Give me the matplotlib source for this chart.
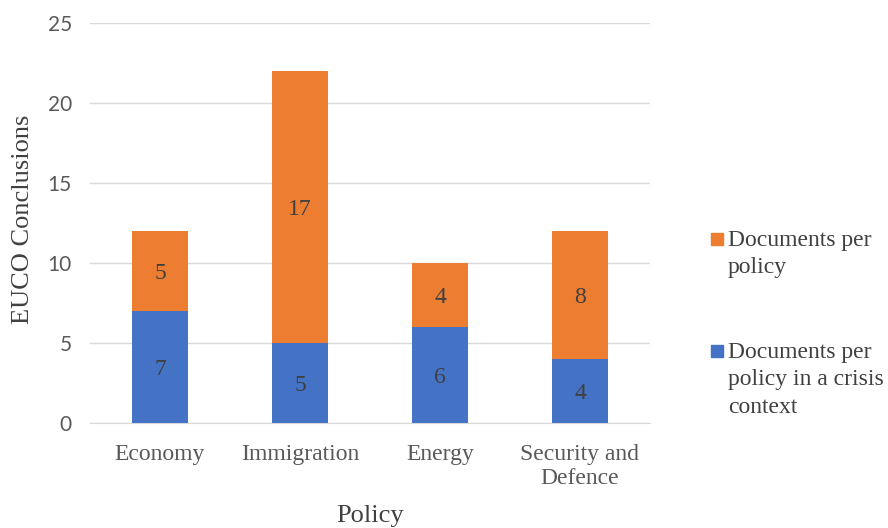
import matplotlib
matplotlib.use("Agg")
import matplotlib.pyplot as plt
from matplotlib.patches import Rectangle

categories = ["Economy", "Immigration", "Energy", "Security and\nDefence"]
crisis = [7, 5, 6, 4]
policy = [5, 17, 4, 8]
series_names = ["Documents per\npolicy", "Documents per\npolicy in a crisis\ncontext"]
yticks = [0, 5, 10, 15, 20, 25]

blue = "#4472C4"
orange = "#ED7D31"
plt.rcParams['font.family'] = ['Liberation Serif', 'DejaVu Serif']

W, H = 888, 528
fig = plt.figure(figsize=(W/100, H/100), dpi=100)
ax = fig.add_axes([90/W, 1-423/H, 560/W, 400/H])

x = range(len(categories))
ax.bar(x, crisis, width=0.4, color=blue, zorder=3)
ax.bar(x, policy, width=0.4, bottom=crisis, color=orange, zorder=3)
for i in x:
    ax.text(i, crisis[i]/2, str(crisis[i]), ha='center', va='center_baseline', fontsize=17, color='#404040', zorder=4)
    ax.text(i, crisis[i] + policy[i]/2, str(policy[i]), ha='center', va='center_baseline', fontsize=17, color='#404040', zorder=4)

ax.set_xlim(-0.5, len(categories)-0.5)
ax.set_ylim(0, 25)
ax.set_yticks(yticks)
ax.set_yticklabels([str(v) for v in yticks], family='Lato', fontsize=15, color='#595959')
ax.set_xticks(list(x))
ax.set_xticklabels(categories, fontsize=17, color='#595959', linespacing=1.2)
ax.tick_params(axis='y', length=0, pad=13)
ax.tick_params(axis='x', length=0, pad=15)
ax.yaxis.grid(True, color='#D9D9D9', linewidth=1, zorder=0)
for s in ['top', 'right', 'left']:
    ax.spines[s].set_visible(False)
ax.spines['bottom'].set_color('#D9D9D9')
ax.set_ylabel("EUCO Conclusions", fontsize=19, color='#404040')
ax.yaxis.set_label_coords(-(90-23)/560, 0.51)
ax.yaxis.label.set_va('center')
ax.set_xlabel("Policy", fontsize=19, color='#404040')
ax.xaxis.set_label_coords(0.5, -(516-423)/400)
ax.xaxis.label.set_va('center')

# legend (manual, markers aligned with first text line)
colors = [orange, blue]
first_baselines = [246, 358]
for name, c, yb in zip(series_names, colors, first_baselines):
    fig.patches.append(Rectangle((711/W, 1-(yb-1)/H), 12/W, 12/H, color=c,
                                 transform=fig.transFigure, figure=fig))
    for k, line in enumerate(name.split("\n")):
        fig.text(728/W, 1-(yb + 27.5*k)/H, line, fontsize=17, color='#404040',
                 ha='left', va='baseline')

fig.savefig("out.png", dpi=100)
